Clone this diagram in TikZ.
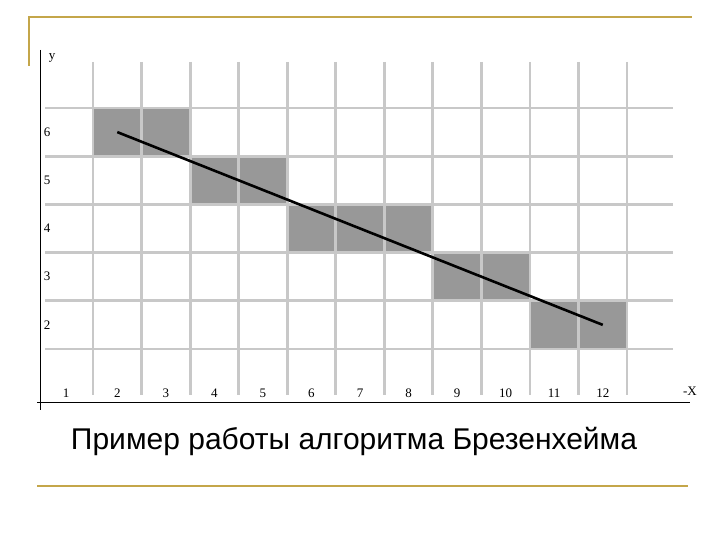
\documentclass[tikz,border=0pt]{standalone}
\usepackage{fontspec}
\setmainfont{Liberation Serif}
\newfontfamily\capfont{Liberation Sans}
\usetikzlibrary{positioning}
\definecolor{gold}{RGB}{196,166,74}
\definecolor{gridgray}{RGB}{200,200,200}
\definecolor{cellgray}{RGB}{152,152,152}

\begin{document}
\begin{tikzpicture}[x=1pt,y=-1pt]
\tikzset{gridline/.style={draw=gridgray,line width=2.8pt},
  cell/.style={fill=cellgray},
  tick/.style={font=\fontsize{13}{14}\selectfont,inner sep=0pt},
  axis/.style={draw=black,line width=1pt}}
\useasboundingbox (0,0) rectangle (720,540);
% gold frame lines
\draw[gold,line width=2pt] (29,66) -- (29,17) -- (692,17);
\draw[gold,line width=2.5pt] (37,486) -- (688,486);
% filled pixels (column,row)
\foreach \c/\r in {2/6,3/6,4/5,5/5,6/4,7/4,8/4,9/3,10/3,11/2,12/2}
  {\fill[cell] ({93+48.55*(\c-2)},{108+48.2*(6-\r)}) rectangle +(48.55,48.2);}
% grid
\foreach \k in {0,...,11}{\draw[gridline] ({93+48.55*\k},62) -- ({93+48.55*\k},395);}
\foreach \k in {0,...,5}{\draw[gridline] (45,{108+48.2*\k}) -- (673,{108+48.2*\k});}
% axes
\draw[axis] (40,50) -- (40,410);
\draw[axis] (37,402) -- (690,402);
\node[tick] (ylab) at (52,58) {y};
\node[tick] (xlab) at (690,391) {-X};
\node[tick] (xl1) at (66,393) {1};
\foreach \i in {2,...,12}{\node[tick] (xl\i) at ({93+48.55*(\i-1.5)},393) {\i};}
\foreach \r in {2,...,6}{\node[tick] (yl\r) at (47,{108+48.2*(6-\r)+24}) {\r};}
% ideal segment
\coordinate (p0) at ({93+48.55*0.5},{108+48.2*0.5});
\coordinate (p1) at ({93+48.55*10.5},{108+48.2*4.5});
\draw[line width=2.6pt] (p0) -- (p1);
% caption
\node[font=\capfont\fontsize{30}{32}\selectfont] (cap) at (354,441) {Пример работы алгоритма Брезенхейма};
\end{tikzpicture}
\end{document}
